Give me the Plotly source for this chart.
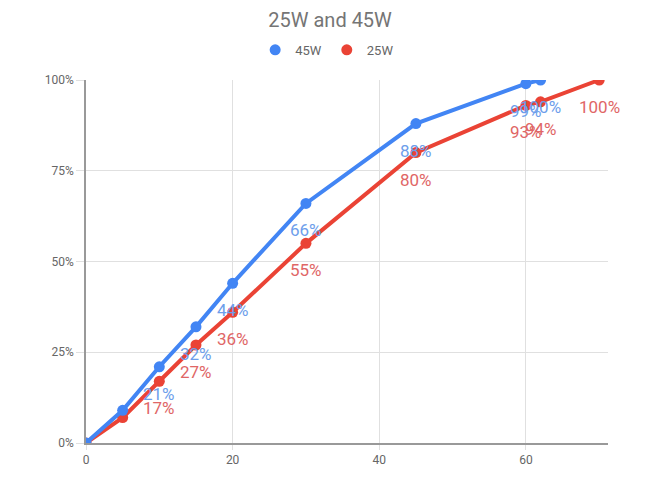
import plotly.graph_objects as go

x_45 = [0, 5, 10, 15, 20, 30, 45, 60, 62]
y_45 = [0, 9, 21, 32, 44, 66, 88, 99, 100]
x_25 = [0, 5, 10, 15, 20, 30, 45, 60, 62, 70]
y_25 = [0, 7, 17, 27, 36, 55, 80, 93, 94, 100]
lbl_45 = ["", "", "21%", "32%", "44%", "66%", "88%", "99%", "100%"]
lbl_25 = ["", "", "17%", "27%", "36%", "55%", "80%", "93%", "94%", "100%"]

BLUE, RED = "#4285F4", "#EA4335"
BLUE_TXT, RED_TXT = "#6d9eeb", "#e06666"

fig = go.Figure()
fig.add_trace(go.Scatter(
    x=x_25, y=[v / 100 for v in y_25], name="25W", mode="lines+markers",
    line=dict(color=RED, width=4), marker=dict(size=11, color=RED), showlegend=False,
))
fig.add_trace(go.Scatter(
    x=x_45, y=[v / 100 for v in y_45], name="45W", mode="lines+markers",
    line=dict(color=BLUE, width=4), marker=dict(size=11, color=BLUE), showlegend=False,
))
# legend entries (circle only)
fig.add_trace(go.Scatter(x=[None], y=[None], name="45W", mode="markers",
                         marker=dict(size=11, color=BLUE)))
fig.add_trace(go.Scatter(x=[None], y=[None], name="25W", mode="markers",
                         marker=dict(size=11, color=RED)))

annos = []
for xs, ys, ls, col in [(x_25, y_25, lbl_25, RED_TXT), (x_45, y_45, lbl_45, BLUE_TXT)]:
    for xv, yv, lv in zip(xs, ys, ls):
        if lv:
            annos.append(dict(x=xv, y=yv / 100, text=lv, showarrow=False,
                              xanchor="center", yanchor="middle", yshift=-27,
                              font=dict(size=17, color=col, family="Roboto")))

fig.update_layout(
    width=660, height=485,
    margin=dict(l=78, r=60, t=72, b=50),
    paper_bgcolor="white", plot_bgcolor="white",
    font=dict(family="Roboto", color="#666666"),
    title=dict(text="25W and 45W", x=0.488, xanchor="center", y=1 - 12 / 485, yanchor="middle",
               font=dict(size=20, color="#757575")),
    legend=dict(orientation="h", x=0.462, xanchor="center", y=1.083, yanchor="middle",
                font=dict(size=13, color="#666666"), itemwidth=30),
    annotations=annos,
)
fig.update_xaxes(
    range=[0, 71.2], tickvals=[0, 20, 40, 60], showgrid=True, gridcolor="#e0e0e0",
    zeroline=False, showline=True, linecolor="#999999", linewidth=1.5,
    ticks="outside", tickcolor="#e0e0e0", ticklen=5, tickfont=dict(size=12, color="#666666"),
)
fig.update_yaxes(
    range=[0, 1], tickvals=[0, 0.25, 0.5, 0.75, 1], tickformat=".0%",
    showgrid=True, gridcolor="#e0e0e0", zeroline=False, showline=True,
    linecolor="#999999", linewidth=1.5, ticks="outside", tickcolor="#e0e0e0", ticklen=8,
    tickfont=dict(size=12, color="#666666"),
)
fig.write_html("out.html")
